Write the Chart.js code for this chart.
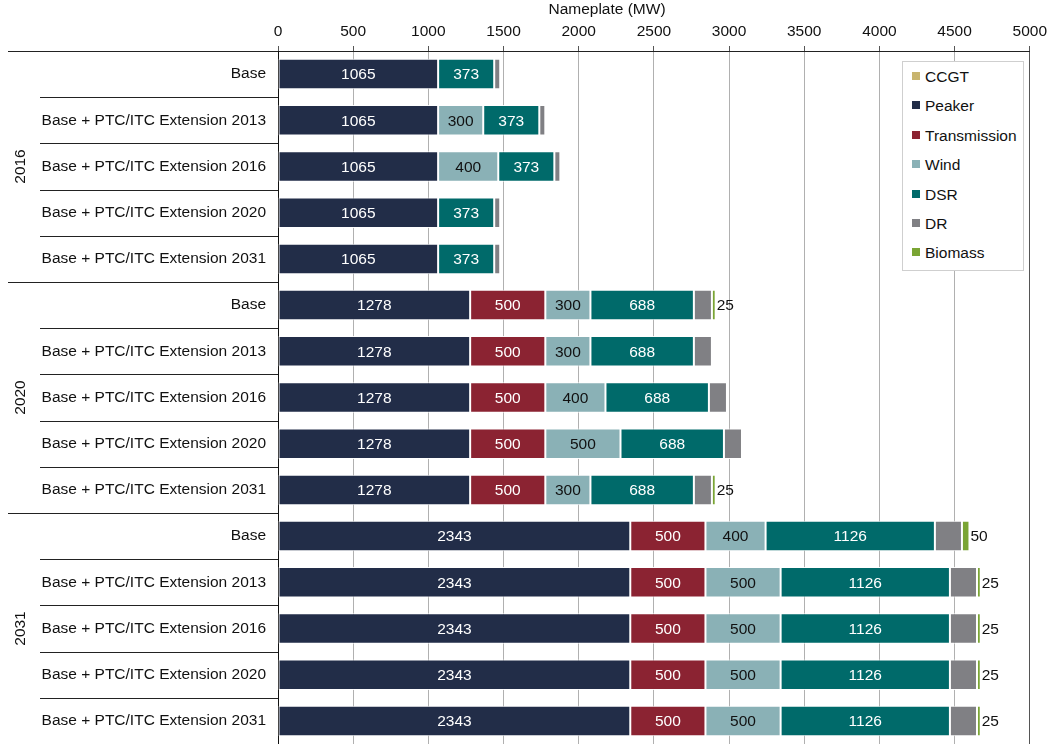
<!DOCTYPE html>
<html lang="en">
<head>
    <meta charset="UTF-8">
    <title>Nameplate (MW)</title>
    <script src="https://cdn.jsdelivr.net/npm/chart.js"></script>
    <style>
        body { margin: 0; background: #fff; font-family: "Liberation Sans", Arial, sans-serif; }
        #wrap { position: relative; width: 1052px; height: 744px; }
        canvas { display: block; }
        #legend {
            position: absolute; left: 902px; top: 61px; width: 120px; height: 208px;
            border: 1px solid #cfcfcf; background: #fff;
        }
        .item { position: absolute; left: 9px; font-size: 15.5px; color: #111; line-height: 18px; }
        .item span { display: inline-block; width: 8px; height: 8px; margin-right: 5px; vertical-align: 2px; }
    </style>
</head>
<body>
<div id="wrap">
    <canvas id="chart" width="1052" height="744"></canvas>
    <div id="legend"></div>
</div>

<script>
    // ** Data **
    let years = ["2016", "2020", "2031"];
    let cases = ["Base", "Base + PTC/ITC Extension 2013", "Base + PTC/ITC Extension 2016",
                 "Base + PTC/ITC Extension 2020", "Base + PTC/ITC Extension 2031"];
    let rowLabels = [];
    years.forEach(y => cases.forEach(c => rowLabels.push(c)));

    let ccgt         = [0, 0, 0, 0, 0,   0, 0, 0, 0, 0,   0, 0, 0, 0, 0];
    let peaker       = [1065, 1065, 1065, 1065, 1065,   1278, 1278, 1278, 1278, 1278,   2343, 2343, 2343, 2343, 2343];
    let transmission = [0, 0, 0, 0, 0,   500, 500, 500, 500, 500,   500, 500, 500, 500, 500];
    let wind         = [0, 300, 400, 0, 0,   300, 300, 400, 500, 300,   400, 500, 500, 500, 500];
    let dsr          = [373, 373, 373, 373, 373,   688, 688, 688, 688, 688,   1126, 1126, 1126, 1126, 1126];
    let dr           = [40, 40, 40, 40, 40,   120, 120, 120, 120, 120,   180, 180, 180, 180, 180];
    let biomass      = [0, 0, 0, 0, 0,   25, 0, 0, 0, 25,   50, 25, 25, 25, 25];

    let xTicks = [0, 500, 1000, 1500, 2000, 2500, 3000, 3500, 4000, 4500, 5000];

    let seriesNames = ["CCGT", "Peaker", "Transmission", "Wind", "DSR", "DR", "Biomass"];
    let seriesData = [ccgt, peaker, transmission, wind, dsr, dr, biomass];
    let colors = ["#c8b46e", "#222d48", "#8b2332", "#8ab1b6", "#006a6a", "#808084", "#7aa534"];
    // label color inside bar (null = no label, "out" = right of bar)
    let labelMode = [null, "#fff", "#fff", "#111", "#fff", null, "out"];

    const FAMILY = '"Liberation Sans", Arial, sans-serif';
    const FONT = '15.5px ' + FAMILY;

    // ** Data labels **
    let labelPlugin = {
        id: "segLabels",
        afterDatasetsDraw(chart) {
            let ctx = chart.ctx;
            ctx.save();
            ctx.font = FONT;
            ctx.textBaseline = "middle";
            chart.data.datasets.forEach((ds, i) => {
                let mode = labelMode[i];
                if (!mode) return;
                chart.getDatasetMeta(i).data.forEach((el, j) => {
                    let v = ds.data[j];
                    if (!v) return;
                    if (mode === "out") {
                        ctx.fillStyle = "#111";
                        ctx.textAlign = "left";
                        ctx.fillText(v, el.x + 1, el.y + 1);
                    } else {
                        ctx.fillStyle = mode;
                        ctx.textAlign = "center";
                        ctx.fillText(v, (el.x + el.base) / 2, el.y + 1);
                    }
                });
            });
            ctx.restore();
        }
    };

    // ** Group labels, separators, axis title **
    let framePlugin = {
        id: "frame",
        afterDraw(chart) {
            let ctx = chart.ctx;
            let y = chart.scales.y;
            let area = chart.chartArea;
            let n = rowLabels.length;
            let step = (area.bottom - area.top) / n;
            ctx.save();
            ctx.strokeStyle = "#222";
            ctx.lineWidth = 1;
            // top line extension to the left
            ctx.beginPath();
            ctx.moveTo(8, Math.round(area.top) + 0.5);
            ctx.lineTo(area.left, Math.round(area.top) + 0.5);
            ctx.stroke();
            for (let i = 1; i < n; i++) {
                let yy = Math.round(area.top + i * step) + 0.5;
                let x0 = (i % cases.length === 0) ? 8 : 40;
                ctx.beginPath();
                ctx.moveTo(x0, yy);
                ctx.lineTo(area.left, yy);
                ctx.stroke();
            }
            // year labels rotated
            ctx.font = FONT;
            ctx.fillStyle = "#111";
            ctx.textAlign = "center";
            ctx.textBaseline = "middle";
            years.forEach((yr, g) => {
                let cy = y.getPixelForValue(g * cases.length + 2);
                ctx.save();
                ctx.translate(21, cy);
                ctx.rotate(-Math.PI / 2);
                ctx.fillText(yr, 0, 0);
                ctx.restore();
            });
            // axis title
            ctx.fillText("Nameplate (MW)", 607, 10);
            ctx.restore();
        }
    };

    let ctx = document.getElementById("chart").getContext("2d");
    new Chart(ctx, {
        type: "bar",
        data: {
            labels: rowLabels,
            datasets: seriesNames.map((name, i) => ({
                label: name,
                data: seriesData[i],
                backgroundColor: colors[i],
                borderColor: "rgba(255,255,255,0.9)",
                borderWidth: 1,
                borderSkipped: false,
                categoryPercentage: 0.66,
                barPercentage: 1
            }))
        },
        options: {
            indexAxis: "y",
            responsive: false,
            animation: false,
            layout: { padding: { left: 0, right: 21, top: 0, bottom: 0 } },
            plugins: {
                legend: { display: false },
                tooltip: { enabled: false }
            },
            scales: {
                x: {
                    position: "top",
                    stacked: true,
                    min: 0,
                    max: 5000,
                    afterFit: s => { s.height = 51; },
                    afterBuildTicks: s => { s.ticks = xTicks.map(v => ({ value: v })); },
                    ticks: {
                        color: "#111", font: { family: FAMILY, size: 15.5 }, padding: 5,
                        callback: v => String(v)
                    },
                    grid: {
                        color: c => (c.tick && c.tick.value === 5000) ? "#555" : "#b0b0b0",
                        tickColor: "#555",
                        tickLength: 5
                    },
                    border: { color: "#222", width: 1 }
                },
                y: {
                    stacked: true,
                    afterFit: s => { s.width = 278; s.paddingTop = 0; s.paddingBottom = 0; },
                    ticks: { color: "#111", font: { family: FAMILY, size: 15.5 }, padding: 12 },
                    grid: { display: false, drawTicks: false },
                    border: { color: "#111", width: 1 }
                }
            }
        },
        plugins: [labelPlugin, framePlugin]
    });

    // ** Legend **
    let legend = document.getElementById("legend");
    seriesNames.forEach((name, i) => {
        let d = document.createElement("div");
        d.className = "item";
        d.style.top = (6 + i * 29.4) + "px";
        d.innerHTML = '<span style="background:' + colors[i] + '"></span>' + name;
        legend.appendChild(d);
    });
</script>
</body>
</html>
